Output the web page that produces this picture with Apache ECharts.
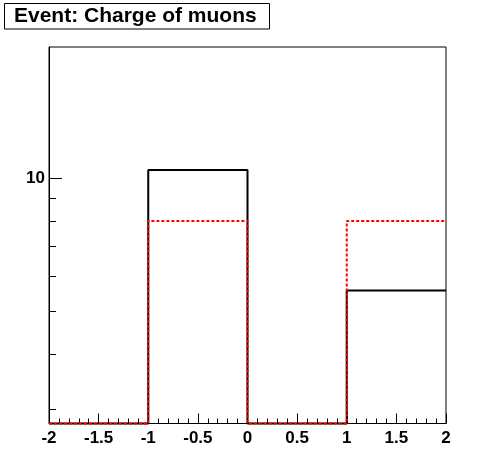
<!DOCTYPE html>
<html><head><meta charset="utf-8">
<script src="https://cdn.jsdelivr.net/npm/echarts@6/dist/echarts.min.js"></script>
<style>html,body{margin:0;padding:0;background:#fff;}#c{width:496px;height:472px;}</style>
</head><body><div id="c"></div>
<script>
// Bin edges and bin contents
const binEdges = [-2, -1, 0, 1, 2];
const blackCounts = [0, 10.43, 0, 5.57];
const redCounts = [0, 8, 0, 8];
const xTickLabels = ['-2', '-1.5', '-1', '-0.5', '0', '0.5', '1', '1.5', '2'];
const yMinorTicks = [3, 4, 5, 6, 7, 8, 9];
const yMajorTicks = [10];
const yRange = [2.79, 19.76];
const titleText = 'Event: Charge of muons';

const yMinL = Math.log10(yRange[0]);
const yMaxL = Math.log10(yRange[1]);
function toY(v) { return v > 0 ? Math.log10(v) : yMinL; }
function histPoints(counts) {
  const pts = [];
  for (let i = 0; i < counts.length; i++) pts.push([binEdges[i], toY(counts[i])]);
  pts.push([binEdges[binEdges.length - 1], toY(counts[counts.length - 1])]);
  return pts;
}

const font = '"Liberation Sans", Arial, Helvetica, sans-serif';
const chart = echarts.init(document.getElementById('c'), null, {renderer: 'canvas'});
chart.setOption({
  animation: false,
  backgroundColor: '#fff',
  grid: {left: 49, top: 47, right: 50, bottom: 48.5, show: true, borderColor: '#000', borderWidth: 1, backgroundColor: 'transparent'},
  graphic: [
    {type: 'rect', shape: {x: 4.5, y: 3.5, width: 265, height: 25.5}, style: {fill: '#fff', stroke: '#000', lineWidth: 1}},
    {type: 'text', x: 14, y: 16.5, style: {text: titleText, font: 'bold 21px ' + font, fill: '#000', verticalAlign: 'middle'}}
  ],
  xAxis: {
    type: 'value', min: -2, max: 2, interval: 0.5,
    axisLine: {show: true, onZero: false, lineStyle: {color: '#000', width: 1}},
    axisTick: {show: true, inside: true, length: 10, lineStyle: {color: '#000'}},
    minorTick: {show: true, splitNumber: 5, length: 5, lineStyle: {color: '#000'}},
    splitLine: {show: false},
    axisLabel: {
      margin: 6, color: '#000', fontSize: 17, fontWeight: 'bold', fontFamily: font,
      formatter: function (v) { const i = Math.round((v + 2) / 0.5); return xTickLabels[i]; }
    }
  },
  yAxis: [
    {
      type: 'value', min: yMinL, max: yMaxL,
      axisLine: {show: true, onZero: false, lineStyle: {color: '#000', width: 1}},
      axisTick: {show: true, inside: true, length: 7, customValues: yMinorTicks.map(Math.log10), lineStyle: {color: '#000'}},
      axisLabel: {show: false},
      splitLine: {show: false}
    },
    {
      type: 'value', min: yMinL, max: yMaxL, position: 'left',
      axisLine: {show: false, onZero: false},
      axisTick: {show: true, inside: true, length: 13, customValues: yMajorTicks.map(Math.log10), lineStyle: {color: '#000'}},
      axisLabel: {
        show: true, customValues: yMajorTicks.map(Math.log10), margin: 4,
        color: '#000', fontSize: 17, fontWeight: 'bold', fontFamily: font,
        formatter: function (v) { return String(Math.round(Math.pow(10, v))); }
      },
      splitLine: {show: false}
    }
  ],
  series: [
    {type: 'line', step: 'end', data: histPoints(blackCounts), symbol: 'none', clip: false,
     lineStyle: {color: '#000', width: 2}, z: 3},
    {type: 'line', step: 'end', data: histPoints(redCounts), symbol: 'none', clip: false,
     lineStyle: {color: '#ff0000', width: 2, type: [3, 2]}, z: 4}
  ]
});
</script></body></html>
